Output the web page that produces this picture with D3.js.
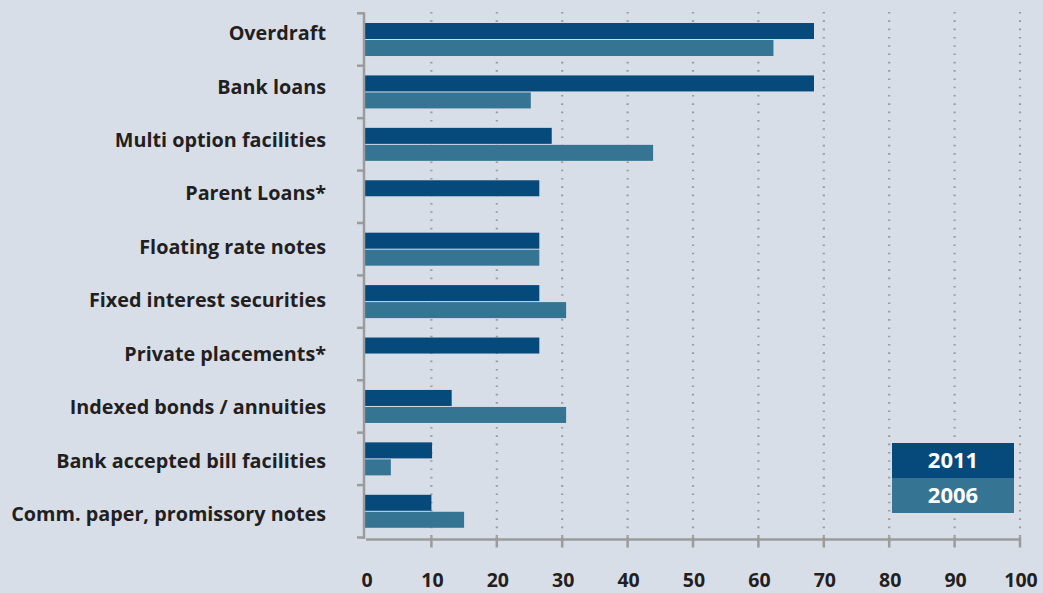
<!DOCTYPE html>
<html>
<head>
<meta charset="utf-8">
<script src="https://cdn.jsdelivr.net/npm/d3@7"></script>
<style>
  html, body { margin: 0; padding: 0; background: #d8dee8; }
  svg { display: block; }
  text { font-family: "Open Sans", Lato, sans-serif; font-weight: 700; }
</style>
</head>
<body>
<svg id="chart" width="1043" height="593"></svg>
<script>
// Financing instruments used, share of respondents (%)
const categories = [
  "Overdraft",
  "Bank loans",
  "Multi option facilities",
  "Parent Loans*",
  "Floating rate notes",
  "Fixed interest securities",
  "Private placements*",
  "Indexed bonds / annuities",
  "Bank accepted bill facilities",
  "Comm. paper, promissory notes"
];
const years = ["2011", "2006"];
const values2011 = [68.5, 68.5, 28.4, 26.5, 26.5, 26.5, 26.5, 13.1, 10.1, 10.0];
const values2006 = [62.3, 25.2, 43.9, null, 26.5, 30.6, null, 30.6, 3.8, 15.0];
const xTicks = [0, 10, 20, 30, 40, 50, 60, 70, 80, 90, 100];

const colors = { "2011": "#06497b", "2006": "#357492" };
const gridColor = "#9a9a9a";
const axisColor = "#9b9b9b";
const textColor = "#231f20";

const svg = d3.select("#chart");
const W = 1043, H = 593;
svg.append("rect").attr("width", W).attr("height", H).attr("fill", "#d8dee8");

const plot = { left: 366, right: 1020, top: 13.3, bottom: 537.5 };
const x = d3.scaleLinear().domain([0, 100]).range([plot.left, plot.right]);
const y = d3.scaleBand().domain(categories).range([plot.top, plot.bottom]).paddingInner(0).paddingOuter(0);
// category labels sit on their own evenly spaced rows
const yLabel = d3.scalePoint().domain(categories).range([33, 514]);
const barH = 16, barGap = 1;

// dotted vertical gridlines
svg.append("g").selectAll("line")
  .data(xTicks.filter(d => d > 0))
  .join("line")
  .attr("x1", d => x(d)).attr("x2", d => x(d))
  .attr("y1", 12).attr("y2", 537)
  .attr("stroke", gridColor).attr("stroke-width", 2.2)
  .attr("stroke-dasharray", "1.6 6.7");

// bars
const rows = categories.map((c, i) => ({ c, v11: values2011[i], v06: values2006[i] }));
const bars = svg.append("g");
rows.forEach(r => {
  const top = y(r.c) + (y.bandwidth() - (2 * barH + barGap)) / 2;
  if (r.v11 != null) {
    bars.append("rect")
      .attr("x", x(0) - 2).attr("y", top)
      .attr("width", x(r.v11) - x(0) + 2).attr("height", barH)
      .attr("fill", colors["2011"]);
  }
  if (r.v06 != null) {
    bars.append("rect")
      .attr("x", x(0) - 2).attr("y", top + barH + barGap)
      .attr("width", x(r.v06) - x(0) + 2).attr("height", barH)
      .attr("fill", colors["2006"]);
  }
});

// category axis: vertical line with outward ticks at band boundaries
const yAxis = svg.append("g");
yAxis.append("line")
  .attr("x1", x(0) - 2).attr("x2", x(0) - 2)
  .attr("y1", plot.top - 1).attr("y2", plot.bottom + 1.5)
  .attr("stroke", axisColor).attr("stroke-width", 2.5);
const boundaries = categories.map(c => y(c)).concat([plot.bottom]);
yAxis.selectAll("line.tick")
  .data(boundaries)
  .join("line")
  .attr("class", "tick")
  .attr("x1", x(0) - 9).attr("x2", x(0) - 2)
  .attr("y1", d => d).attr("y2", d => d)
  .attr("stroke", axisColor).attr("stroke-width", 2.5);

yAxis.selectAll("text")
  .data(categories)
  .join("text")
  .attr("x", 326)
  .attr("y", d => yLabel(d))
  .attr("dy", "0.36em")
  .attr("text-anchor", "end")
  .attr("font-size", 19.8)
  .attr("fill", textColor)
  .text(d => d);

// value axis
const xAxis = svg.append("g");
const axisY = 539.5;
xAxis.append("line")
  .attr("x1", x(0)).attr("x2", x(100))
  .attr("y1", axisY).attr("y2", axisY)
  .attr("stroke", axisColor).attr("stroke-width", 2.5);
xAxis.selectAll("line.tick")
  .data(xTicks.filter(d => d > 0))
  .join("line")
  .attr("class", "tick")
  .attr("x1", d => x(d)).attr("x2", d => x(d))
  .attr("y1", axisY - 3).attr("y2", axisY + 8)
  .attr("stroke", axisColor).attr("stroke-width", 2.5);
xAxis.selectAll("text")
  .data(xTicks)
  .join("text")
  .attr("x", d => x(d) + 1)
  .attr("y", 587)
  .attr("text-anchor", "middle")
  .attr("font-size", 19.5)
  .attr("fill", textColor)
  .text(d => d);

// legend
const legend = svg.append("g");
const lg = { x: 892, y: 443, w: 122, h: 35 };
years.forEach((yr, i) => {
  legend.append("rect")
    .attr("x", lg.x).attr("y", lg.y + i * lg.h)
    .attr("width", lg.w).attr("height", lg.h)
    .attr("fill", colors[yr]);
  legend.append("text")
    .attr("x", lg.x + lg.w / 2).attr("y", lg.y + i * lg.h + lg.h / 2)
    .attr("dy", "0.36em")
    .attr("text-anchor", "middle")
    .attr("font-size", 22)
    .attr("fill", "#ffffff")
    .text(yr);
});
</script>
</body>
</html>
